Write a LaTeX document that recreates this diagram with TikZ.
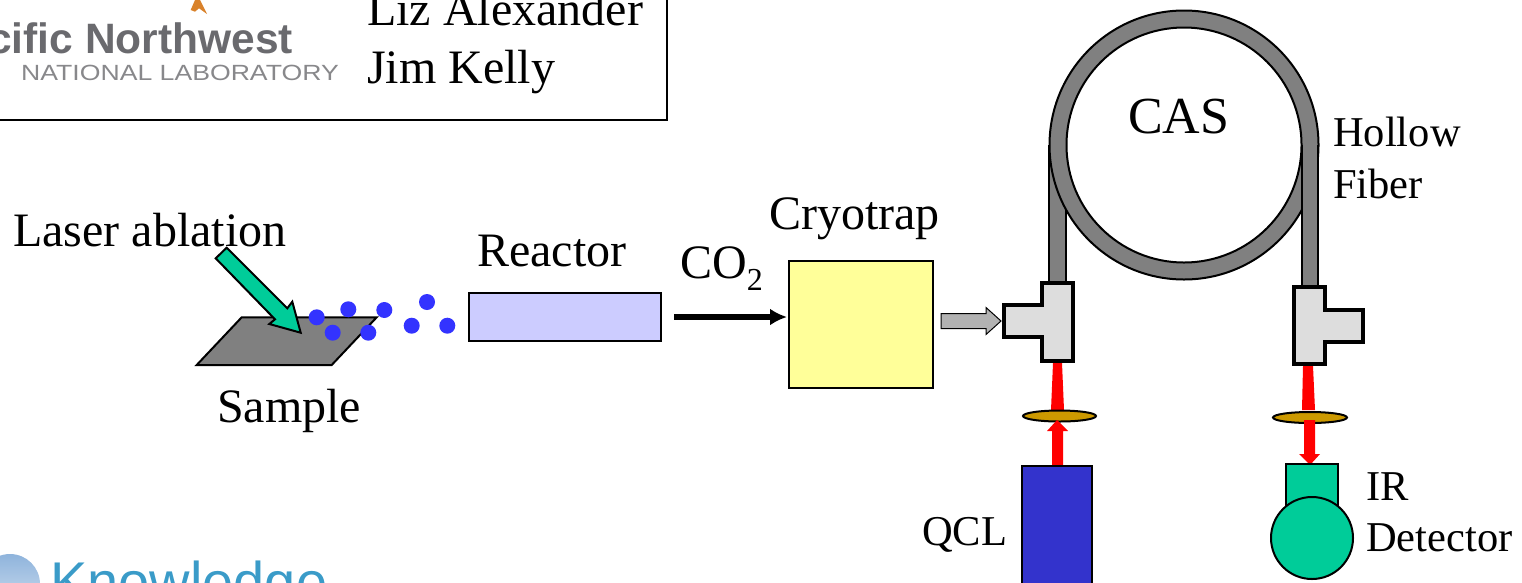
\documentclass[tikz,border=0pt]{standalone}
\usepackage{fontspec}
\usetikzlibrary{arrows.meta,shapes.geometric}
\setmainfont{Liberation Serif}
\newfontfamily\logofont{Liberation Sans}
\newfontfamily\logowide[FakeStretch=1.21]{Liberation Sans}
\definecolor{samplegray}{HTML}{808080}
\definecolor{teegray}{HTML}{DDDDDD}
\definecolor{feedgray}{HTML}{B2B2B2}
\definecolor{reactorblue}{HTML}{CCCCFF}
\definecolor{trapyellow}{HTML}{FFFF99}
\definecolor{lensgold}{HTML}{CC9900}
\definecolor{qclblue}{HTML}{3333CC}
\definecolor{dotblue}{HTML}{3333FF}
\definecolor{sea}{HTML}{00CC99}
\definecolor{logogray}{HTML}{6A6A6E}
\definecolor{logoblue}{HTML}{3A9BC8}
\definecolor{discblue}{HTML}{8FB4DC}
\definecolor{pinorange}{HTML}{D9822B}
\begin{document}
\begin{tikzpicture}[x=1pt,y=-1pt,
    biglabel/.style={anchor=base west,inner sep=0pt,font=\fontsize{48}{48}\selectfont},
    smalllabel/.style={anchor=base west,inner sep=0pt,font=\fontsize{42.5}{42.5}\selectfont},
    outline/.style={draw=black,line width=2pt},
    device/.style={outline,inner sep=0pt,outer sep=0pt},
    tee/.style={draw=black,line width=4pt,fill=teegray,miter limit=10},
    particle/.style={fill=dotblue,draw=none},
    beam/.style={fill=red,draw=none}]
    \useasboundingbox (0,0) rectangle (1522,582);
    \begin{scope}
    \clip (0,0) rectangle (1522,582);

    % --- 左上角的框和标志 ---
    \node[draw=black,line width=2pt,inner sep=0pt,minimum width=680pt,minimum height=131pt,anchor=south east] (namebox) at (668,121) {};
    \fill[pinorange] (190.7,10) -- (195,0) -- (200,0) -- (207,14) -- (199,8.3) -- (195,11.7) -- cycle;
    \node[anchor=base west,inner sep=0pt,text=logogray,font=\logofont\bfseries\fontsize{42.5}{42.5}\selectfont] (pnnl) at (-12,53) {cific Northwest};
    \node[anchor=base west,inner sep=0pt,text=logogray!80,font=\logowide\fontsize{22}{22}\selectfont] (pnnlsub) at (21,80) {NATIONAL LABORATORY};
    \node[biglabel] (liz) at (367,25) {Liz Alexander};
    \node[biglabel] (jim) at (367,83) {Jim Kelly};

    % --- 左下角的标志 ---
    \shade[top color=discblue,bottom color=discblue!40] (10,584) circle (30);
    \node[anchor=base west,inner sep=0pt,text=logoblue,font=\logofont\fontsize{56}{56}\selectfont] (knowledge) at (50,601) {Knowledge};

    % --- 样品和激光 ---
    \draw[outline,fill=samplegray] (196.7,365) -- (241.7,317.3) -- (376.7,317.3) -- (331.7,365) -- cycle;
    \draw[outline,fill=sea] (215.7,258.3) -- (226.7,247.7) -- (287.3,308.3) -- (292.3,301.7) -- (300.7,332.7) -- (269.3,324) -- (275,319.3) -- cycle;
    \foreach \px/\py in {316.7/317.3,348.3/309.3,384.3/310,427/302,332.7/332.7,368.3/332.7,411.7/325.7,447.3/325.7}
        \fill[particle] (\px,\py) circle (8);
    \node[biglabel] (ablation) at (13,246) {Laser ablation};
    \node[biglabel] (sample) at (217,422.5) {Sample};

    % --- 反应器和冷阱 ---
    \node[device,fill=reactorblue,minimum width=192pt,minimum height=48pt] (reactor) at (565,317) {};
    \node[biglabel] (reactorlabel) at (477,266) {Reactor};
    \node[device,fill=trapyellow,minimum width=144pt,minimum height=127pt] (cryotrap) at (861,324.5) {};
    \node[biglabel] (cryolabel) at (769,229) {Cryotrap};
    \node[biglabel] (co2) at (680,278) {CO\raisebox{-12pt}{\fontsize{32}{32}\selectfont 2}};
    \coordinate (co2start) at (674,317);
    \draw[-{Latex[length=17pt,width=17pt]},line width=5.5pt,shorten >=2pt] (co2start) -- (cryotrap.west |- co2start);

    % --- 光纤 ---
    \fill[samplegray] (1049,145) rectangle (1066,285);
    \draw[outline] (1049,145) -- (1049,285) (1066,145) -- (1066,285);
    \draw[outline,fill=samplegray,even odd rule] (1184,145) circle (134.5) (1184,145) circle (117.5);
    \fill[samplegray] (1302,145) rectangle (1318,289);
    \draw[outline] (1302,145) -- (1302,289) (1318,145) -- (1318,289);
    \node[font=\fontsize{52}{52}\selectfont,anchor=base west,inner sep=0pt] (cas) at (1128,133) {CAS};
    \node[smalllabel] (hollow) at (1333,146) {Hollow};
    \node[smalllabel] (fiber) at (1333,198) {Fiber};

    % --- 进气箭头和 T 型接头 ---
    \draw[draw=black,line width=1pt,fill=feedgray] (941,313.5) -- (986,313.5) -- (986,307.5) -- (1001,321) -- (986,334.5) -- (986,328.5) -- (941,328.5) -- cycle;
    \draw[tee] (1042,283) -- (1073,283) -- (1073,361) -- (1042,361) -- (1042,337) -- (1004,337) -- (1004,305) -- (1042,305) -- cycle;
    \draw[tee] (1294,287) -- (1325,287) -- (1325,310) -- (1363,310) -- (1363,342) -- (1325,342) -- (1325,364) -- (1294,364) -- cycle;

    % --- 红色光束和透镜 ---
    \fill[beam] (1053,363) -- (1062,363) -- (1064,410) -- (1051,410) -- cycle;
    \fill[beam] (1303,366) -- (1313,366) -- (1315,410) -- (1302,410) -- cycle;
    \node[outline,ellipse,fill=lensgold,inner sep=0pt,minimum width=73pt,minimum height=11pt] (lensleft) at (1059.5,416) {};
    \node[outline,ellipse,fill=lensgold,inner sep=0pt,minimum width=74pt,minimum height=11pt] (lensright) at (1310,417.5) {};
    \fill[beam] (1052,465) -- (1052,431) -- (1047,431) -- (1057,420) -- (1068,431) -- (1063,431) -- (1063,465) -- cycle;
    \fill[beam] (1304,420) -- (1315,420) -- (1315,454) -- (1320,454) -- (1310,465) -- (1299,454) -- (1304,454) -- cycle;

    % --- 激光器和探测器 ---
    \node[device,fill=qclblue,minimum width=70pt,minimum height=140pt,anchor=north] (qcl) at (1057,465.5) {};
    \node[smalllabel] (qcllabel) at (922,545) {QCL};
    \node[device,fill=sea,minimum width=52pt,minimum height=46pt,anchor=north] (detectortop) at (1312,464) {};
    \node[device,circle,fill=sea,minimum size=82pt] (detector) at (1312,538) {};
    \node[smalllabel] (irlabel) at (1366,500) {IR};
    \node[smalllabel] (detlabel) at (1366,551) {Detector};
    \end{scope}
\end{tikzpicture}
\end{document}
